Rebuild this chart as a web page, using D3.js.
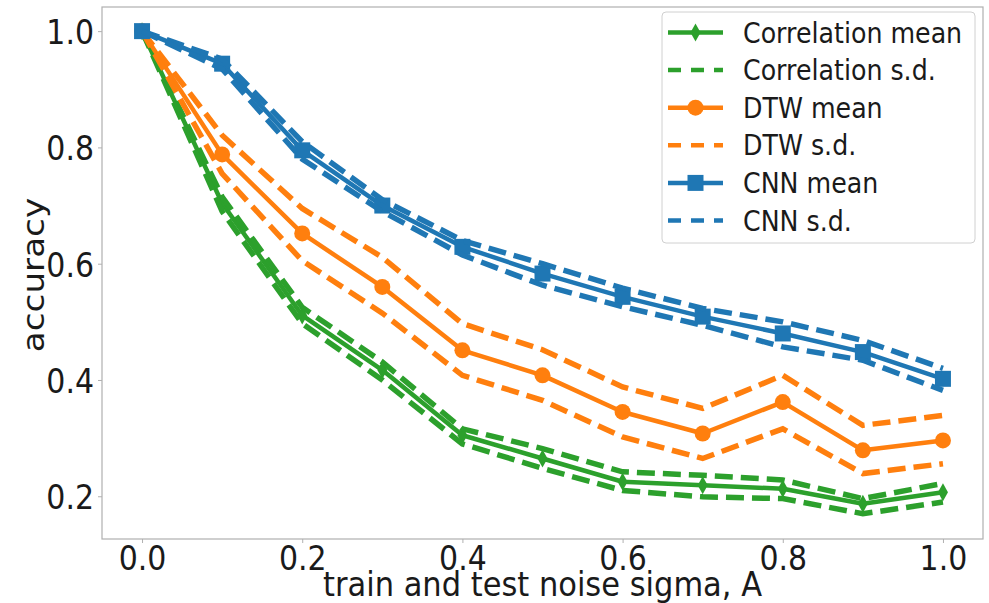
<!DOCTYPE html>
<html><head><meta charset="utf-8">
<script src="https://cdn.jsdelivr.net/npm/d3@7"></script>
<style>
html,body{margin:0;padding:0;background:#fff;}
svg text{font-family:"DejaVu Sans",sans-serif;fill:#1a1a1a;}
</style></head>
<body><svg id="chart" width="989" height="603"></svg>
<script>
const xs = [0, 0.1, 0.2, 0.3, 0.4, 0.5, 0.6, 0.7, 0.8, 0.9, 1.0];
const corrMean  = [1.0, 0.704, 0.511, 0.417, 0.305, 0.265, 0.225, 0.219, 0.213, 0.187, 0.207];
const corrUpper = [1.0, 0.715, 0.525, 0.431, 0.316, 0.282, 0.242, 0.236, 0.228, 0.196, 0.222];
const corrLower = [1.0, 0.690, 0.497, 0.400, 0.290, 0.248, 0.210, 0.199, 0.196, 0.170, 0.190];
const dtwMean   = [1.0, 0.788, 0.652, 0.560, 0.451, 0.408, 0.345, 0.308, 0.362, 0.279, 0.296];
const dtwUpper  = [1.0, 0.821, 0.695, 0.611, 0.497, 0.452, 0.388, 0.351, 0.408, 0.322, 0.339];
const dtwLower  = [1.0, 0.755, 0.605, 0.515, 0.408, 0.365, 0.302, 0.265, 0.316, 0.239, 0.256];
const cnnMean   = [1.0, 0.944, 0.795, 0.700, 0.629, 0.583, 0.543, 0.509, 0.480, 0.448, 0.402];
const cnnUpper  = [1.0, 0.952, 0.810, 0.710, 0.640, 0.600, 0.558, 0.523, 0.500, 0.468, 0.420];
const cnnLower  = [1.0, 0.935, 0.780, 0.690, 0.615, 0.563, 0.526, 0.494, 0.457, 0.434, 0.382];
const xTicks = [0, 0.2, 0.4, 0.6, 0.8, 1.0];
const yTicks = [0.2, 0.4, 0.6, 0.8, 1.0];
const legendLabels = ["Correlation mean", "Correlation s.d.", "DTW mean", "DTW s.d.", "CNN mean", "CNN s.d."];

const colors = {corr: "#2ca02c", dtw: "#ff7f0e", cnn: "#1f77b4"};
const SY = 1.14; // vertical stretch of glyphs seen in the reference
const svg = d3.select("#chart");
const L = 102, R = 983, T = 7, B = 539;
const x = d3.scaleLinear().domain([-0.05, 1.05]).range([L, R]);
const y = d3.scaleLinear().domain([0.1265, 1.0415]).range([B, T]);

// axes
const xAxis = svg.append("g").attr("transform", `translate(0,${B})`)
  .call(d3.axisBottom(x).tickValues(xTicks).tickFormat(d3.format(".1f")).tickSize(4));
const yAxis = svg.append("g").attr("transform", `translate(${L},0)`)
  .call(d3.axisLeft(y).tickValues(yTicks).tickFormat(d3.format(".1f")).tickSize(4));
[xAxis, yAxis].forEach(g => {
  g.select(".domain").remove();
  g.selectAll(".tick line").attr("stroke", "#b0b0b0");
  g.selectAll(".tick text").attr("font-size", 30).attr("fill", "#1a1a1a")
    .style("font-family", "DejaVu Sans").attr("x", 0).attr("y", 0).attr("dy", null);
});
xAxis.selectAll(".tick text").attr("transform", `translate(0,30.5) scale(1,${SY})`);
yAxis.selectAll(".tick text").attr("text-anchor", "end").attr("transform", `translate(-8,12.5) scale(1,${SY})`);
svg.append("rect").attr("x", L).attr("y", T).attr("width", R - L).attr("height", B - T)
  .attr("fill", "none").attr("stroke", "#b0b0b0").attr("stroke-width", 1.2);

svg.append("text").attr("transform", `translate(${(L + R) / 2},596) scale(1,1.1)`).attr("text-anchor", "middle")
  .attr("font-size", 30.5).text("train and test noise sigma, A");
svg.append("text").attr("transform", `translate(44,${(T + B) / 2 + 2}) rotate(-90) scale(${SY},1)`)
  .attr("text-anchor", "middle").attr("font-size", 30).text("accuracy");

const line = d3.line().x((d, i) => x(xs[i])).y(d => y(d));
const plotG = svg.append("g");

function markerPath(kind) {
  if (kind === "diamond") return "M0,-9 L5,0 L0,9 L-5,0 Z";
  if (kind === "square") return "M-8,-8 L8,-8 L8,8 L-8,8 Z";
  return d3.symbol().type(d3.symbolCircle).size(Math.PI * 8 * 8)();
}

function series(mean, upper, lower, color, kind) {
  const g = plotG.append("g");
  g.append("path").attr("d", line(mean)).attr("fill", "none").attr("stroke", color)
    .attr("stroke-width", 4.5).attr("stroke-linejoin", "round");
  g.selectAll("path.m").data(mean).enter().append("path").attr("class", "m")
    .attr("transform", (d, i) => `translate(${x(xs[i])},${y(d)})`)
    .attr("d", markerPath(kind)).attr("fill", color);
  [upper, lower].forEach(arr => {
    g.append("path").attr("d", line(arr)).attr("fill", "none").attr("stroke", color)
      .attr("stroke-width", 5.5).attr("stroke-dasharray", "18,8");
  });
}
series(corrMean, corrUpper, corrLower, colors.corr, "diamond");
series(dtwMean, dtwUpper, dtwLower, colors.dtw, "circle");
series(cnnMean, cnnUpper, cnnLower, colors.cnn, "square");

// legend
const lg = svg.append("g");
lg.append("rect").attr("x", 662).attr("y", 12).attr("width", 313).attr("height", 231)
  .attr("rx", 4).attr("fill", "#fff").attr("fill-opacity", 0.8).attr("stroke", "#d0d0d0");
const legendColors = [colors.corr, colors.corr, colors.dtw, colors.dtw, colors.cnn, colors.cnn];
const legendKinds = ["diamond", null, "circle", null, "square", null];
legendLabels.forEach((lab, i) => {
  const cy = 32.5 + i * 37.6;
  const c = legendColors[i];
  if (legendKinds[i]) {
    lg.append("line").attr("x1", 668).attr("x2", 723).attr("y1", cy).attr("y2", cy)
      .attr("stroke", c).attr("stroke-width", 4.5);
    lg.append("path").attr("transform", `translate(695.5,${cy})`).attr("d", markerPath(legendKinds[i]))
      .attr("fill", c);
  } else {
    lg.append("line").attr("x1", 668).attr("x2", 723).attr("y1", cy).attr("y2", cy)
      .attr("stroke", c).attr("stroke-width", 4.5).attr("stroke-dasharray", "13,10");
  }
  lg.append("text").attr("transform", `translate(743,${cy + 10}) scale(1,${SY})`)
    .attr("font-size", 25.3).text(lab);
});
</script></body></html>
